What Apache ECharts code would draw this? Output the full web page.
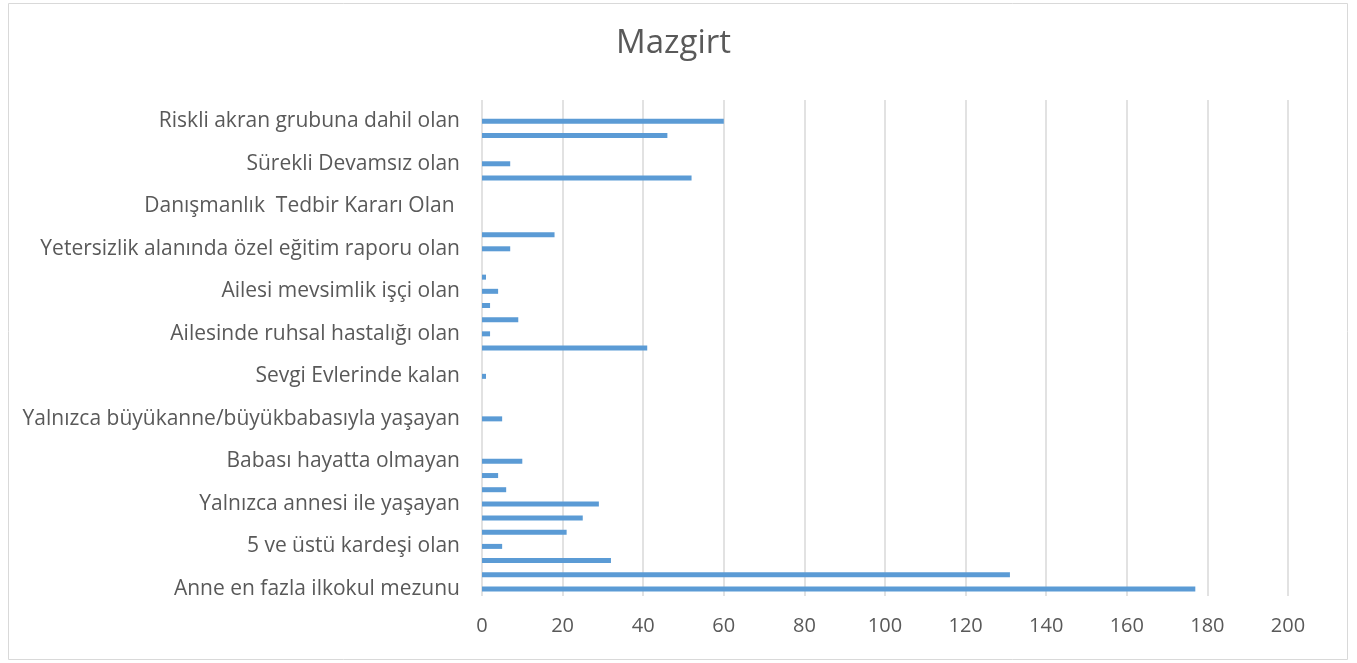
<!DOCTYPE html>
<html>
<head>
<meta charset="utf-8">
<script src="https://cdn.jsdelivr.net/npm/echarts@6/dist/echarts.min.js"></script>
<style>
  html, body { margin: 0; padding: 0; background: #fff; }
  #chart { width: 1357px; height: 663px; }
</style>
</head>
<body>
<div id="chart"></div>
<script>
// bottom to top, only every third row carries a label
const categories = [
	'Anne en fazla ilkokul mezunu', '', '',
	'5 ve üstü kardeşi olan', '', '',
	'Yalnızca annesi ile yaşayan', '', '',
	'Babası hayatta olmayan', '', '',
	'Yalnızca büyükanne/büyükbabasıyla yaşayan', '', '',
	'Sevgi Evlerinde kalan', '', '',
	'Ailesinde ruhsal hastalığı olan', '', '',
	'Ailesi mevsimlik işçi olan', '', '',
	'Yetersizlik alanında özel eğitim raporu olan', '', '',
	'Danışmanlık  Tedbir Kararı Olan ', '', '',
	'Sürekli Devamsız olan', '', '',
	'Riskli akran grubuna dahil olan', ''
]
const values = [
	177, 131, 32,
	5, 21, 25,
	29, 6, 4,
	10, null, null,
	5, null, null,
	1, null, 41,
	2, 9, 2,
	4, 1, null,
	7, 18, null,
	null, null, 52,
	7, null, 46,
	60, null
]
const xTicks = { min: 0, max: 200, interval: 20 }

const textColor = '#595959'
const font = '"Open Sans", sans-serif'

const chart = echarts.init(document.getElementById('chart'))

chart.setOption({
	animation: false,
	title: {
		text: 'Mazgirt',
		left: 611,
		top: 22,
		textStyle: {
			fontFamily: font,
			fontWeight: 'normal',
			fontSize: 33,
			color: textColor
		}
	},
	graphic: [
		{
			type: 'rect',
			shape: { x: 8.5, y: 3.5, width: 1339, height: 656 },
			style: { fill: 'none', stroke: '#d9d9d9', lineWidth: 1 },
			silent: true
		}
	],
	grid: {
		left: 482,
		right: 69,
		top: 100,
		bottom: 67
	},
	xAxis: {
		type: 'value',
		min: xTicks.min,
		max: xTicks.max,
		interval: xTicks.interval,
		axisLine: { show: false },
		axisTick: { show: false },
		axisLabel: {
			fontFamily: font,
			fontSize: 20,
			color: textColor,
			margin: 20
		},
		splitLine: {
			lineStyle: { color: '#d9d9d9', width: 1.5 }
		}
	},
	yAxis: {
		type: 'category',
		data: categories,
		axisLine: { show: false },
		axisTick: { show: false },
		axisLabel: {
			interval: 0,
			fontFamily: font,
			fontSize: 21,
			color: textColor,
			margin: 22
		},
		splitLine: { show: false }
	},
	series: [
		{
			type: 'bar',
			data: values,
			barWidth: 5,
			itemStyle: { color: '#5b9bd5' }
		}
	]
})
</script>
</body>
</html>
